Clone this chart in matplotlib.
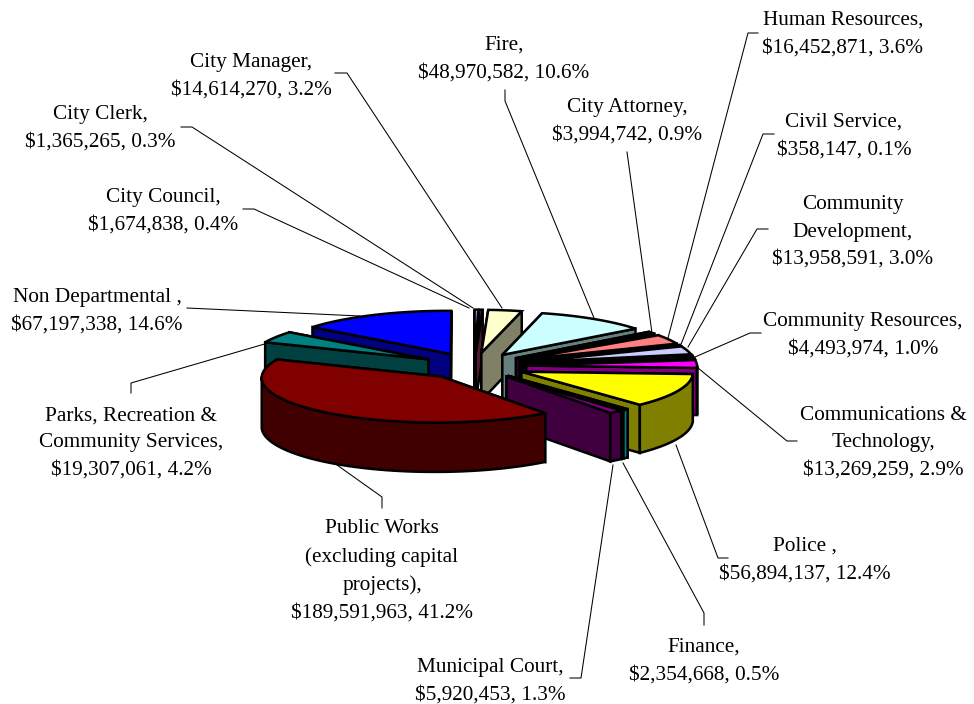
#!/usr/bin/env python3
# -*- coding: utf-8 -*-
"""Exploded 3D-style budget pie, drawn as projected polygons."""

import matplotlib as mpl
import matplotlib.pyplot as plt
import numpy as np
from matplotlib.patches import Polygon

departments = [
    "City Council", "City Clerk", "City Manager", "Fire", "City Attorney",
    "Human Resources", "Civil Service", "Community\nDevelopment",
    "Community Resources", "Communications &\nTechnology", "Police ",
    "Finance", "Municipal Court", "Public Works\n(excluding capital\nprojects)",
    "Parks, Recreation &\nCommunity Services", "Non Departmental ",
]
budget = [
    1674838, 1365265, 14614270, 48970582, 3994742,
    16452871, 358147, 13958591,
    4493974, 13269259, 56894137,
    2354668, 5920453, 189591963,
    19307061, 67197338,
]
slice_colors = [
    "#9999FF", "#993366", "#FFFFCC", "#CCFFFF", "#660066",
    "#FF8080", "#0066CC", "#CCCCFF",
    "#000080", "#FF00FF", "#FFFF00",
    "#00FFFF", "#800080", "#800000",
    "#008080", "#0000FF",
]

# label centre (x, y) in pixels, same order as departments
label_pos = [
    (163, 209), (100, 126), (251, 74), (504, 57), (627, 119),
    (843, 32), (844, 134), (853, 230),
    (863, 333), (883, 441), (805, 558),
    (704, 659), (490, 679), (382, 569),
    (131, 441), (97, 309),
]
# leader polylines in pixels, same order
leaders = [
    [(243, 209), (254, 209), (469, 308)],
    [(181, 127), (192, 127), (473, 308)],
    [(335, 73), (347, 73), (502, 308)],
    [(505, 90), (505, 101), (594, 318)],
    [(627, 152), (652, 333)],
    [(758, 33), (748, 33), (668, 338)],
    [(774, 134), (763, 134), (680, 347)],
    [(768, 229), (757, 229), (688, 347)],
    [(761, 333), (750, 333), (695, 357)],
    [(797, 441), (787, 441), (698, 368)],
    [(728, 558), (718, 558), (676, 445)],
    [(704, 625), (704, 613), (623, 463)],
    [(570, 678), (581, 678), (613, 465)],
    [(382, 508), (382, 497), (337, 465)],
    [(131, 393), (131, 383), (268, 343)],
    [(187, 308), (360, 316)],
]

# pie geometry in pixels
CX, CY = 474, 366
A, B = 175, 44.5
HEIGHT = 48
EXPLODE = 0.30
P = 0.02  # front bigger than back
Q = 0.015  # left bigger than right
OUTLINE = 1.8


def project(u, v, z=0.0):
    w = 1 - P * v + Q * u
    return CX + A * u / w, CY + B * v / w + HEIGHT * z / w


def polar(theta):
    return np.sin(theta), -np.cos(theta)


def face(ax, pts, color):
    ax.add_patch(Polygon(pts, closed=True, facecolor=color, edgecolor="black",
                         linewidth=OUTLINE, joinstyle="miter"))


def draw_slice(ax, t0, t1, color):
    mid = (t0 + t1) / 2
    du, dv = polar(mid)
    du, dv = du * EXPLODE, dv * EXPLODE
    rgb = np.array(mpl.colors.to_rgb(color))
    dark = tuple(rgb * 0.5)

    def pt(theta, r=1.0, z=0.0):
        u, v = polar(theta)
        return project(r * u + du, r * v + dv, z)

    def radial_wall(theta):
        return [pt(theta, 0), pt(theta), pt(theta, 1, 1), pt(theta, 0, 1)]

    start_visible = -np.sin(t0) > 0
    end_visible = np.sin(t1) > 0
    if not start_visible:
        face(ax, radial_wall(t0), dark)
    if not end_visible:
        face(ax, radial_wall(t1), dark)
    if start_visible:
        face(ax, radial_wall(t0), dark)
    if end_visible:
        face(ax, radial_wall(t1), dark)

    # outer curved wall, front half only
    a0, a1 = max(t0, np.pi / 2), min(t1, 3 * np.pi / 2)
    if a1 > a0:
        th = np.linspace(a0, a1, 60)
        top = [pt(t) for t in th]
        bottom = [pt(t, 1, 1) for t in th[::-1]]
        face(ax, top + bottom, dark)

    th = np.linspace(t0, t1, max(int((t1 - t0) * 40), 3))
    face(ax, [pt(0, 0)] + [pt(t) for t in th], color)


def main():
    mpl.rcParams["font.family"] = ["Liberation Serif", "DejaVu Serif"]
    fig = plt.figure(figsize=(9.74, 7.04), dpi=100)
    ax = fig.add_axes([0, 0, 1, 1])
    ax.set_xlim(0, 974)
    ax.set_ylim(704, 0)
    ax.axis("off")

    vals = np.array(budget, dtype=float)
    edges = np.concatenate([[0], np.cumsum(vals)]) / vals.sum() * 2 * np.pi

    # leaders go under the pie
    for line in leaders:
        xs, ys = zip(*line)
        ax.plot(xs, ys, color="black", linewidth=0.75, zorder=0.5)

    # back slices first
    order = sorted(range(len(vals)),
                   key=lambda i: -np.cos((edges[i] + edges[i + 1]) / 2))
    biggest = int(np.argmax(vals))
    order.remove(biggest)
    order.append(biggest)
    for i in order:
        draw_slice(ax, edges[i], edges[i + 1], slice_colors[i])

    for name, v, (x, y) in zip(departments, vals, label_pos):
        txt = f"{name},\n${int(v):,}, {v / vals.sum() * 100:.1f}%"
        ax.text(x, y + 2, txt, ha="center", va="center", ma="center",
                fontsize=15.3, color="black", linespacing=1.6)

    fig.savefig("out.png", dpi=100, facecolor="white")
    plt.close(fig)


if __name__ == "__main__":
    main()
